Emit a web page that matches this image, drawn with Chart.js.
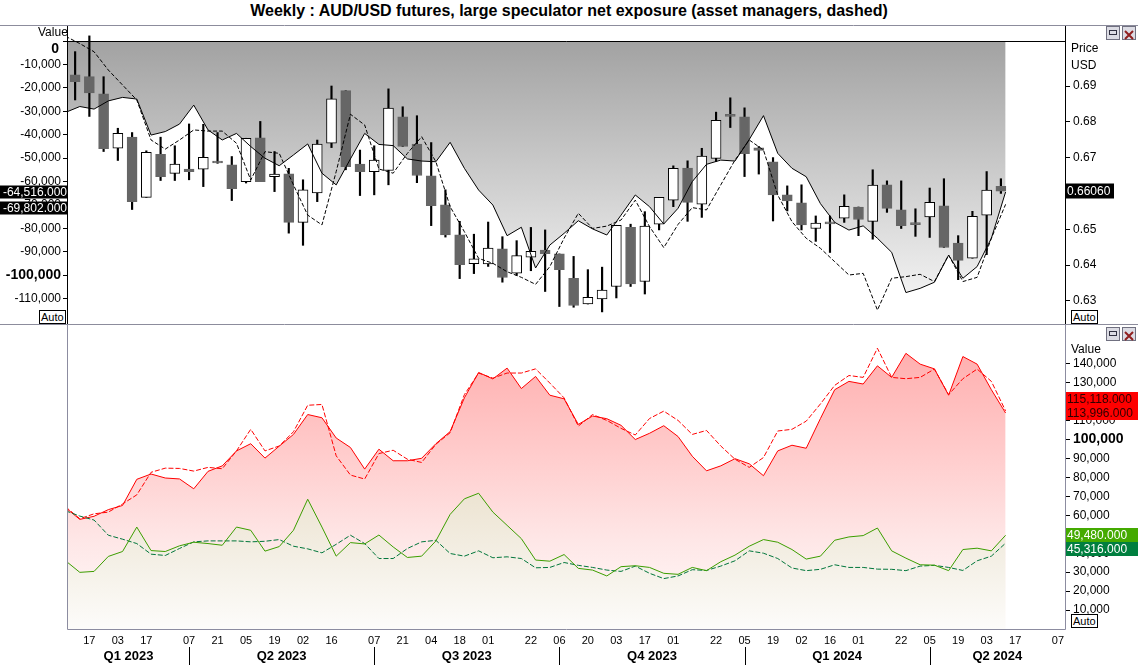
<!DOCTYPE html>
<html>
<head>
<meta charset="utf-8">
<title>AUD/USD futures positioning</title>
<script src="https://cdn.jsdelivr.net/npm/chart.js@4.4.1/dist/chart.umd.min.js"></script>
<style>
  body { margin: 0; background: #fff; font-family: Arial, "Liberation Sans", sans-serif; }
  #wrap { position: relative; width: 1138px; height: 665px; overflow: hidden; }
  #title { position: absolute; left: 0; top: 2px; width: 1138px; text-align: center; font-size: 16px; font-weight: bold; }
  canvas { position: absolute; left: 0; }
  #priceChart { top: 25px; }
  #cotChart { top: 325px; }
  .lbl { position: absolute; font-size: 12px; line-height: 14px; }
  .auto { position: absolute; font-size: 11px; line-height: 12px; border: 1px solid #000; padding: 0 1px; background: #fff; }
  .btn { position: absolute; width: 14px; height: 14px; border: 1px solid #707080; background: #dcdce4; box-sizing: border-box; }
</style>
</head>
<body>
<div id="wrap">
  <div id="title">Weekly : AUD/USD futures, large speculator net exposure (asset managers, dashed)</div>
  <canvas id="priceChart" width="1138" height="300"></canvas>
  <canvas id="cotChart" width="1138" height="340"></canvas>

  <div class="lbl" style="left:38px;top:25px">Value</div>
  <div class="lbl" style="left:1071px;top:41px">Price</div>
  <div class="lbl" style="left:1071px;top:58px">USD</div>
  <div class="lbl" style="left:1071px;top:342px">Value</div>
  <div class="auto" style="left:39px;top:310px">Auto</div>
  <div class="auto" style="left:1071px;top:310px">Auto</div>
  <div class="auto" style="left:1071px;top:614px">Auto</div>

  <div class="btn" style="left:1106px;top:26px"><div style="margin:3px 2px;height:3px;border:1px solid #303040"></div></div>
  <div class="btn" style="left:1122px;top:26px"><svg width="12" height="12"><path d="M2 2L10 10M10 2L2 10" stroke="#902020" stroke-width="2"/></svg></div>
  <div class="btn" style="left:1106px;top:327px"><div style="margin:3px 2px;height:3px;border:1px solid #303040"></div></div>
  <div class="btn" style="left:1122px;top:327px"><svg width="12" height="12"><path d="M2 2L10 10M10 2L2 10" stroke="#902020" stroke-width="2"/></svg></div>
</div>

<script>
// weekly AUD/USD candles, week 0 = 10 Feb 2023
const opens  = [0.6931,0.6926,0.6878,0.6726,0.6757,0.6589,0.6709,0.6656,0.6668,0.6668,0.6687,0.6680,0.6633,0.6755,0.6647,0.6655,0.6519,0.6601,0.6740,0.6887,
                0.6682,0.6661,0.6664,0.6814,0.6738,0.6649,0.6568,0.6484,0.6404,0.6403,0.6445,0.6377,0.6422,0.6442,0.6431,0.6363,0.6291,0.6305,0.6340,0.6505,
                0.6354,0.6514,0.6581,0.6671,0.6570,0.6698,0.6817,0.6814,0.6727,0.6688,0.6596,0.6574,0.6502,0.6520,0.6531,0.6562,0.6522,0.6624,0.6554,0.6515,
                0.6534,0.6565,0.6461,0.6419,0.6539,0.6620];
const highs  = [0.6996,0.7040,0.6926,0.6782,0.6770,0.6719,0.6757,0.6733,0.6794,0.6793,0.6770,0.6703,0.6754,0.6801,0.6717,0.6670,0.6638,0.6749,0.6900,0.6887,
                0.6721,0.6733,0.6892,0.6842,0.6817,0.6742,0.6610,0.6522,0.6486,0.6520,0.6479,0.6468,0.6505,0.6498,0.6431,0.6424,0.6387,0.6394,0.6511,0.6514,
                0.6549,0.6589,0.6677,0.6691,0.6726,0.6827,0.6867,0.6839,0.6731,0.6700,0.6621,0.6624,0.6537,0.6537,0.6596,0.6562,0.6666,0.6635,0.6635,0.6557,
                0.6615,0.6641,0.6482,0.6550,0.6661,0.6641];
const lows   = [0.6861,0.6815,0.6717,0.6692,0.6555,0.6589,0.6636,0.6636,0.6638,0.6619,0.6684,0.6580,0.6629,0.6633,0.6605,0.6489,0.6455,0.6577,0.6728,0.6666,
                0.6594,0.6596,0.6624,0.6731,0.6630,0.6510,0.6478,0.6362,0.6376,0.6396,0.6352,0.6371,0.6384,0.6326,0.6284,0.6282,0.6291,0.6269,0.6308,0.6340,
                0.6319,0.6498,0.6563,0.6522,0.6533,0.6689,0.6784,0.6647,0.6654,0.6523,0.6551,0.6498,0.6466,0.6435,0.6519,0.6482,0.6472,0.6547,0.6502,0.6480,
                0.6477,0.6449,0.6359,0.6419,0.6429,0.6600];
const closes = [0.6912,0.6881,0.6725,0.6768,0.6577,0.6715,0.6647,0.6682,0.6661,0.6701,0.6685,0.6613,0.6754,0.6633,0.6654,0.6519,0.6610,0.6738,0.6864,0.6675,
                0.6661,0.6693,0.6838,0.6731,0.6650,0.6566,0.6484,0.6401,0.6417,0.6447,0.6365,0.6426,0.6438,0.6432,0.6387,0.6287,0.6310,0.6330,0.6511,0.6347,
                0.6509,0.6589,0.6670,0.6575,0.6704,0.6804,0.6815,0.6711,0.6720,0.6596,0.6579,0.6512,0.6517,0.6515,0.6564,0.6527,0.6623,0.6558,0.6510,0.6513,
                0.6575,0.6449,0.6413,0.6536,0.6609,0.6606];

// COT series start one week before the first candle (clipped at the left edge)
const firstCotWeek = -1;
const cotShift = 0.33;   // report date sits a little right of the candle slot

// net positions: large speculators (solid) and asset managers (dashed)
const netSpec = [-30500,-28000,-29100,-25600,-24100,-24800,-40200,-38700,-35500,-27400,-38000,-42300,-39500,-45100,-50100,-53300,-48700,-44000,-56500,-61500,
                 -50400,-39500,-44200,-44700,-50400,-51300,-51600,-43300,-54400,-63700,-70100,-83200,-79600,-97000,-87200,-82200,-76800,-80300,-82900,-74400,
                 -65800,-70800,-78200,-71500,-60100,-52700,-50900,-51300,-42100,-31900,-48000,-54400,-58000,-69500,-77500,-80800,-79000,-84300,-90300,-107500,
                 -105700,-103100,-91500,-101400,-96400,-84300,-64516];
const netAM   = [2000,-1100,-4600,-12400,-18800,-25200,-42300,-46200,-42300,-38000,-38500,-38500,-43700,-59400,-47300,-48000,-61500,-74400,-78600,-55800,
                 -31300,-35900,-54700,-56500,-48000,-40900,-51600,-70800,-81500,-92900,-95000,-98600,-101000,-104000,-96400,-84300,-73600,-80100,-79100,-76500,
                 -68000,-79300,-88300,-78400,-71200,-72200,-61500,-50900,-42300,-46600,-65800,-77200,-84300,-88600,-94300,-100000,-99300,-115000,-101400,-100700,
                 -99700,-102800,-91500,-102800,-101000,-84300,-69802];

// gross shorts (red) and longs (green)
const specShorts = [64000,57850,59500,63000,65200,79000,81800,79700,79200,74000,83200,86100,94000,97800,90200,96500,102700,113200,111500,100800,
                    95800,84400,94900,88800,88800,90100,97800,104200,122000,135400,132000,137700,126900,133300,123400,121500,108000,112400,111000,107500,
                    100000,103300,107300,101600,91200,83500,86100,89900,87200,80900,94000,97000,95400,111100,126300,130700,129300,138900,132800,145500,
                    139800,137300,123400,143800,139800,126300,113996];
const amShorts   = [64500,58200,60800,61700,66000,70800,82700,84900,84750,83350,85300,84600,94000,105400,94000,96600,104100,118100,118500,91400,
                    81250,79150,92600,94350,89600,87900,97500,103600,123700,135100,132400,135100,135100,137300,129800,122000,107100,113200,110100,105900,
                    102400,111100,115000,110100,102700,104800,96600,89600,85300,90500,104500,105400,109700,118800,128600,133800,132800,148200,132800,132100,
                    132800,137200,123700,132100,137200,130700,115118];
const specLongs  = [36000,29900,30400,38300,40900,53800,41400,40900,43900,45800,45100,44200,53800,52100,41100,43500,52100,68500,53800,38450,
                    45600,44900,49600,43300,37750,38450,46500,60500,68700,71650,61700,54700,47700,36400,35800,39300,32000,31100,28000,32900,
                    33400,32500,29400,28850,32500,30800,35500,39000,43700,47200,45800,41950,36900,38450,46850,48600,49300,53300,41250,37400,
                    33900,33700,30800,41950,42650,41250,49480];
const amLongs    = [62400,59600,57500,49500,47400,45100,39500,38800,42500,46000,46500,46500,46500,46000,46300,47200,43700,42300,40200,44700,
                    49500,45100,37200,37200,42500,46000,46800,39850,38450,41250,37600,38100,37200,32300,32500,35100,33600,32500,31100,30400,
                    33200,29400,26600,28000,31300,30900,33200,36000,41250,40000,37200,32200,30800,31500,33900,32500,32500,31600,31500,30800,
                    33200,33600,32500,30900,36000,38450,45316];

// x axis
const dayTickWeeks  = [1,3,5,8,10,12,14,16,18,21,23,25,27,29,32,34,36,38,40,42,45,47,49,51,53,55,58,60,62,64,66,69];
const dayTickLabels = ['17','03','17','07','21','05','19','02','16','07','21','04','18','01','22','06','20','03','17','01','22','05','19','02','16','01','22','05','19','03','17','07'];
const quarterNames  = ['Q1 2023','Q2 2023','Q3 2023','Q4 2023','Q1 2024','Q2 2024'];
const quarterStarts = [8,21,34,47,60];

const netTicks   = [-110000,-100000,-90000,-80000,-70000,-60000,-50000,-40000,-30000,-20000,-10000,0];
const priceTicks = [0.63,0.64,0.65,0.66,0.67,0.68,0.69];
const cotTicks   = [10000,20000,30000,40000,50000,60000,70000,80000,90000,100000,110000,120000,130000,140000];

const FONT = 'Arial, "Liberation Sans", sans-serif';
Chart.defaults.font.family = FONT;
Chart.defaults.color = '#000';

const fmt = (v, d) => v.toLocaleString('en-US', {minimumFractionDigits: d, maximumFractionDigits: d});
const cotPoints = arr => arr.map((v, k) => ({x: firstCotWeek + k + cotShift, y: v}));

function gradient(chart, y0, y1, stops) {
  const g = chart.ctx.createLinearGradient(0, y0, 0, y1);
  stops.forEach(s => g.addColorStop(s[0], s[1]));
  return g;
}

// coloured value boxes on the axes
const tagPlugin = {
  id: 'tags',
  afterDraw(chart, args, opts) {
    const ctx = chart.ctx;
    ctx.save();
    ctx.font = '12px ' + FONT;
    ctx.textBaseline = 'middle';
    (opts.groups || []).forEach(g => {
      const sc = chart.scales[g.axis];
      const y0 = sc.getPixelForValue(g.items[g.anchor].value);
      g.items.forEach((it, k) => {
        const cy = Math.round(y0 + (k - g.anchor) * g.step);
        const tw = ctx.measureText(it.text).width;
        const w = g.width || Math.ceil(tw) + 4;
        ctx.fillStyle = it.bg;
        ctx.fillRect(g.x, cy - g.h / 2, w, g.h);
        ctx.fillStyle = it.fg;
        ctx.textAlign = g.align;
        ctx.fillText(it.text, g.align === 'right' ? g.x + w - 1 : g.x + 1, cy + 1);
      });
    });
    ctx.restore();
  }
};

// fixed axis width, and no extra room for labels at the plot edges
const fixedWidth = w => scale => {
  scale.width = w;
  scale.paddingTop = 0;
  scale.paddingBottom = 0;
};
const tickMarks = {drawOnChartArea: false, drawTicks: true, tickLength: 5, color: '#000'};

// ---------- top panel: candles + net positioning ----------
const candleIdx = closes.map((c, i) => i);
const bull = i => closes[i] >= opens[i];

new Chart(document.getElementById('priceChart'), {
  type: 'line',
  data: {
    datasets: [
      {
        type: 'line', label: 'Large speculators net', yAxisID: 'net',
        data: cotPoints(netSpec),
        borderColor: '#000', borderWidth: 1, pointRadius: 0, tension: 0,
        fill: 'origin',
        backgroundColor: ctx => {
          const ch = ctx.chart;
          if (!ch.chartArea) return 'rgba(0,0,0,0)';
          return gradient(ch, ch.scales.net.getPixelForValue(0), ch.chartArea.bottom,
                          [[0, '#a2a2a2'], [1, '#fbfbfb']]);
        },
        order: 1
      },
      {
        type: 'line', label: 'Asset managers net', yAxisID: 'net',
        data: cotPoints(netAM),
        borderColor: '#000', borderWidth: 1, borderDash: [4, 2], pointRadius: 0, tension: 0,
        fill: false, order: 1
      },
      {
        type: 'bar', label: 'range', yAxisID: 'price',
        data: candleIdx.map(i => ({x: i, y: [lows[i], highs[i]]})),
        backgroundColor: '#000', barThickness: 1.5, grouped: false, borderWidth: 0,
        order: 3
      },
      {
        type: 'bar', label: 'body', yAxisID: 'price',
        data: candleIdx.map(i => ({x: i, y: [opens[i], closes[i]]})),
        backgroundColor: c => bull(c.dataIndex) ? '#fff' : '#666',
        borderColor: c => bull(c.dataIndex) ? '#000' : '#666',
        borderWidth: 1, borderSkipped: false, barThickness: 10, minBarLength: 2, grouped: false,
        order: 2
      }
    ]
  },
  options: {
    responsive: false, animation: false, devicePixelRatio: 1, events: [],
    layout: {padding: {top: 0, bottom: 1}},
    plugins: {
      legend: {display: false}, tooltip: {enabled: false},
      filler: {drawTime: 'beforeDatasetsDraw'},
      tags: {groups: [
        {axis: 'net', x: 0, width: 68, align: 'right', anchor: 0, step: 16, h: 13,
         items: [{value: netSpec[netSpec.length - 1], text: fmt(netSpec[netSpec.length - 1], 3), bg: '#000', fg: '#fff'},
                 {value: netAM[netAM.length - 1], text: fmt(netAM[netAM.length - 1], 3), bg: '#000', fg: '#fff'}]},
        {axis: 'price', x: 1066, width: 0, align: 'left', anchor: 0, step: 14, h: 15,
         items: [{value: closes[closes.length - 1], text: closes[closes.length - 1].toFixed(5), bg: '#000', fg: '#fff'}]}
      ]}
    },
    scales: {
      x: {type: 'linear', min: -0.5, max: 69.5, offset: false, display: false},
      net: {
        type: 'linear', position: 'left', min: -120940, max: 6838,
        afterFit: fixedWidth(68),
        afterBuildTicks: s => { s.ticks = netTicks.map(v => ({value: v})); },
        grid: tickMarks, border: {display: false},
        ticks: {
          padding: 2, color: '#000',
          // the zero label is drawn a little lower, under the "Value" heading
          callback: v => v === 0 ? '' : v.toLocaleString('en-US'),
          font: c => (c.tick && c.tick.value === -100000) ? {size: 14, weight: 'bold'} : {size: 12}
        }
      },
      price: {
        type: 'linear', position: 'right', min: 0.62352, max: 0.70704, beginAtZero: false,
        afterFit: fixedWidth(73),
        afterBuildTicks: s => { s.ticks = priceTicks.map(v => ({value: v})); },
        grid: tickMarks, border: {display: false},
        ticks: {padding: 3, color: '#000', font: {size: 12}, callback: v => v.toFixed(2)}
      }
    }
  },
  plugins: [
    {
      id: 'topFrame',
      afterDatasetsDraw(chart) {
        const {ctx, chartArea: a} = chart;
        const y0 = Math.round(chart.scales.net.getPixelForValue(0)) + 0.5;
        ctx.save();
        ctx.strokeStyle = '#000'; ctx.lineWidth = 1;
        ctx.beginPath(); ctx.moveTo(a.left, y0); ctx.lineTo(a.right, y0); ctx.stroke();
        ctx.restore();
      },
      afterDraw(chart) {
        const {ctx, chartArea: a, width, height} = chart;
        ctx.save();
        ctx.lineWidth = 1;
        ctx.strokeStyle = '#000';
        ctx.beginPath();
        ctx.moveTo(a.left - 0.5, 0); ctx.lineTo(a.left - 0.5, a.bottom);
        ctx.moveTo(a.right + 0.5, 0); ctx.lineTo(a.right + 0.5, a.bottom);
        ctx.stroke();
        ctx.strokeStyle = '#8c8c9c';
        ctx.beginPath();
        ctx.moveTo(0, 0.5); ctx.lineTo(width, 0.5);
        ctx.moveTo(0, height - 0.5); ctx.lineTo(width, height - 0.5);
        ctx.stroke();
        // zero label
        ctx.fillStyle = '#000';
        ctx.font = 'bold 14px ' + FONT;
        ctx.textAlign = 'right';
        ctx.textBaseline = 'middle';
        ctx.fillText('0', a.left - 9, chart.scales.net.getPixelForValue(0) + 8);
        ctx.restore();
      }
    },
    tagPlugin
  ]
});

// ---------- bottom panel: gross longs / shorts ----------
const dayLabelOf = new Map(dayTickWeeks.map((w, k) => [w, dayTickLabels[k]]));

new Chart(document.getElementById('cotChart'), {
  type: 'line',
  data: {
    datasets: [
      {
        label: 'Large speculators long', data: cotPoints(specLongs),
        borderColor: '#3c9e00', borderWidth: 1, pointRadius: 0, tension: 0,
        fill: 'origin',
        backgroundColor: ctx => {
          const ch = ctx.chart;
          if (!ch.chartArea) return 'rgba(0,0,0,0)';
          return gradient(ch, ch.chartArea.top, ch.chartArea.bottom,
                          [[0, '#ddccac'], [0.5, '#ebe1cd'], [0.8, '#f5f1e8'], [1, '#fdfcfa']]);
        },
        order: 1
      },
      {
        label: 'Asset managers long', data: cotPoints(amLongs),
        borderColor: '#00763a', borderWidth: 1, borderDash: [5, 2], pointRadius: 0, tension: 0,
        fill: false, order: 1
      },
      {
        label: 'Large speculators short', data: cotPoints(specShorts),
        borderColor: '#ff0000', borderWidth: 1, pointRadius: 0, tension: 0,
        fill: 'origin',
        backgroundColor: ctx => {
          const ch = ctx.chart;
          if (!ch.chartArea) return 'rgba(0,0,0,0)';
          return gradient(ch, ch.chartArea.top, ch.chartArea.bottom,
                          [[0, '#ffa8a8'], [0.4, '#ffcaca'], [0.7, '#fee6e6'], [1, '#fffcfc']]);
        },
        order: 2
      },
      {
        label: 'Asset managers short', data: cotPoints(amShorts),
        borderColor: '#ff0000', borderWidth: 1, borderDash: [5, 2], pointRadius: 0, tension: 0,
        fill: false, order: 2
      }
    ]
  },
  options: {
    responsive: false, animation: false, devicePixelRatio: 1, events: [],
    layout: {padding: {top: 2, left: 68}},
    plugins: {
      legend: {display: false}, tooltip: {enabled: false},
      filler: {drawTime: 'beforeDatasetsDraw'},
      tags: {groups: [
        {axis: 'y', x: 1066, width: 72, align: 'left', anchor: 1, step: 14, h: 14,
         items: [{value: amShorts[amShorts.length - 1], text: fmt(amShorts[amShorts.length - 1], 3), bg: '#ff0000', fg: '#300000'},
                 {value: specShorts[specShorts.length - 1], text: fmt(specShorts[specShorts.length - 1], 3), bg: '#ff0000', fg: '#300000'}]},
        {axis: 'y', x: 1066, width: 72, align: 'left', anchor: 0, step: 14, h: 14,
         items: [{value: specLongs[specLongs.length - 1], text: fmt(specLongs[specLongs.length - 1], 3), bg: '#44aa00', fg: '#fff'},
                 {value: amLongs[amLongs.length - 1], text: fmt(amLongs[amLongs.length - 1], 3), bg: '#007f3f', fg: '#fff'}]}
      ]}
    },
    scales: {
      x: {
        type: 'linear', min: -0.5, max: 69.5, offset: false, position: 'bottom',
        afterFit: s => { s.height = 36; s.paddingLeft = 0; s.paddingRight = 0; },
        afterBuildTicks: s => { s.ticks = dayTickWeeks.map(w => ({value: w})); },
        grid: {display: false, drawTicks: false}, border: {display: false},
        ticks: {autoSkip: false, maxRotation: 0, padding: 5, color: '#000', font: {size: 11},
                callback: v => dayLabelOf.get(v) || ''}
      },
      y: {
        type: 'linear', position: 'right', min: 0, max: 159400,
        afterFit: fixedWidth(73),
        afterBuildTicks: s => { s.ticks = cotTicks.map(v => ({value: v})); },
        grid: tickMarks, border: {display: false},
        ticks: {
          padding: 3, color: '#000',
          callback: v => v.toLocaleString('en-US'),
          font: c => (c.tick && c.tick.value === 100000) ? {size: 14, weight: 'bold'} : {size: 12}
        }
      }
    }
  },
  plugins: [
    {
      id: 'bottomFrame',
      afterDraw(chart) {
        const {ctx, chartArea: a, height} = chart;
        const xs = chart.scales.x;
        ctx.save();
        ctx.lineWidth = 1;
        ctx.strokeStyle = '#8c8ca0';
        ctx.beginPath();
        ctx.moveTo(a.left - 0.5, 0); ctx.lineTo(a.left - 0.5, a.bottom + 0.5);
        ctx.lineTo(a.right + 0.5, a.bottom + 0.5); ctx.lineTo(a.right + 0.5, 0);
        ctx.stroke();

        // quarter separators and names
        const bounds = [a.left].concat(quarterStarts.map(w => xs.getPixelForValue(w)), [a.right]);
        ctx.strokeStyle = '#000';
        ctx.beginPath();
        quarterStarts.forEach(w => {
          const x = Math.round(xs.getPixelForValue(w)) + 0.5;
          ctx.moveTo(x, a.bottom + 18); ctx.lineTo(x, height);
        });
        ctx.stroke();
        ctx.fillStyle = '#000';
        ctx.font = 'bold 13px ' + FONT;
        ctx.textAlign = 'center';
        ctx.textBaseline = 'middle';
        quarterNames.forEach((q, k) => ctx.fillText(q, (bounds[k] + bounds[k + 1]) / 2, a.bottom + 27));
        ctx.restore();
      }
    },
    tagPlugin
  ]
});
</script>
</body>
</html>
